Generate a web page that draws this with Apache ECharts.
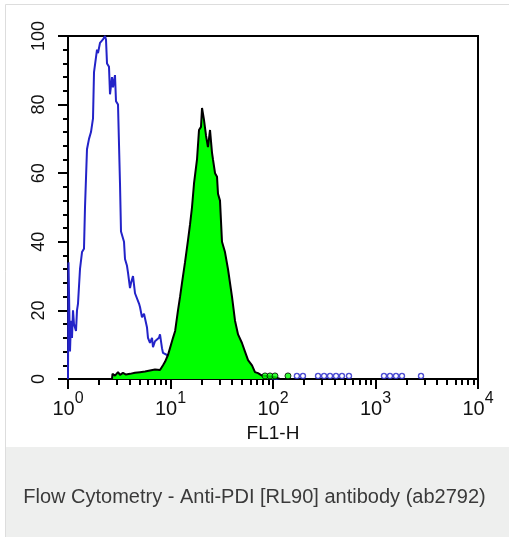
<!DOCTYPE html>
<html>
<head>
<meta charset="utf-8">
<script src="https://cdn.jsdelivr.net/npm/echarts@6/dist/echarts.min.js"></script>
<style>
html,body{margin:0;padding:0;background:#fff;}
#c{width:509px;height:537px;}
</style>
</head>
<body>
<div id="c"></div>
<script>
// Control (blue outline histogram): FL1-H value and % of max
const controlX = [1.00,1.011,1.046,1.070,1.094,1.119,1.144,1.197,1.224,1.252,1.309,1.370,1.432,1.465,1.532,1.603,1.676,1.754,1.794,1.876,1.919,1.962,2.052,2.195,2.296,2.348,2.402,2.512,2.569,2.687,2.748,2.874,2.94,3.075,3.216,3.289,3.519,3.598,3.763,3.849,4.026,4.118,4.307,4.505,4.711,4.93,5.04,5.27,5.513,5.90,6.03,6.31,6.6,6.75,7.06,7.38,7.72,7.9,8.26,8.45,9.25,9.89,11.1,12.4,15.5,19.4,30.4,59.7,117];
const controlY = [0,34,8,17,12,20,16,14,20,22,32,37,38,50,67,70,72,76,89.5,90,96,95,98,99,100,99,92,91,83,88,85,88.6,81,80,57,43,40,35,33,31,26.5,28,30,25,24.5,22,21,18,19,15,12,10.5,12,9.3,11,10.5,12,13,9,7.6,7,6,4,3,2,1.5,1,0.7,0];
// Anti-PDI stained (green filled histogram)
const stainX = [2.687,2.718,2.874,3.075,3.216,3.44,3.68,4.026,4.505,5.04,5.64,6.31,7.06,7.9,8.45,8.84,9.45,9.89,10.58,11.1,11.83,12.4,12.95,13.85,14.82,15.5,16.2,16.96,18.14,18.97,19.84,20.3,21.23,22.2,23.2,24.3,25.4,25.97,27.2,28.43,29.07,30.4,31.8,34.0,36.4,39.8,42.6,45.6,49.8,53.3,57.1,62.4,66.7,71.4,78.1,89.3,104.6,117];
const stainY = [0,1.5,1,2,1.2,1.8,1.3,1.5,1.8,2,2.2,2.5,2.8,2.6,4,5,7,9,12,14,20,24,28,34,40.5,45,50,57,64,72.6,73.5,79,75.5,71,67.6,72.6,66,64,60,59,54,52,40,37,32,24,17,13,10.5,8,5.5,4,2,1.7,1,0.8,0.5,0];
// Rare events near baseline
const controlRareX = [171,196,275,315,360,412,471,551,1210,1385,1585,1813,2780];
const stainRareX = [83.6,93.5,104.6,140];
const rareLevel = 0.9;
// Axis ticks
const yTicks = [0,20,40,60,80,100];
const xDecades = [1,10,100,1000,10000];
const xAxisName = 'FL1-H';
const caption = 'Flow Cytometry - Anti-PDI [RL90] antibody (ab2792)';

const zip = (a, b) => a.map((v, i) => [v, b[i]]);
const chart = echarts.init(document.getElementById('c'), null, {renderer: 'canvas'});
const FONT = '"Liberation Sans", Arial, sans-serif';

chart.setOption({
  animation: false,
  backgroundColor: '#ffffff',
  textStyle: {fontFamily: FONT},
  title: {
    text: caption,
    left: 'center',
    top: 482,
    textStyle: {fontFamily: FONT, fontSize: 20, fontWeight: 'normal', color: '#3a3a3a'}
  },
  graphic: [
    {type: 'rect', z: -10, shape: {x: 5.5, y: 4.5, width: 510, height: 540}, style: {fill: 'none', stroke: '#dddddd', lineWidth: 1}},
    {type: 'rect', z: -9, shape: {x: 6, y: 447, width: 503, height: 90}, style: {fill: '#eeefee'}}
  ],
  grid: {
    left: 68, right: 31, top: 36, bottom: 158,
    show: true, borderColor: '#000', borderWidth: 2, backgroundColor: 'transparent'
  },
  xAxis: {
    type: 'log', logBase: 10, min: xDecades[0], max: xDecades[xDecades.length - 1],
    name: xAxisName, nameLocation: 'middle', nameGap: 45,
    nameTextStyle: {fontFamily: FONT, fontSize: 19, color: '#111'},
    axisLine: {show: true, lineStyle: {color: '#000', width: 2}},
    axisTick: {show: true, inside: false, length: 10, lineStyle: {color: '#000', width: 2}},
    minorTick: {show: true, splitNumber: 9, length: 6, lineStyle: {color: '#000', width: 2}},
    splitLine: {show: false},
    axisLabel: {
      margin: 12, showMinLabel: true, showMaxLabel: true,
      formatter: v => '{b|10}{s|' + Math.round(Math.log10(v)) + '}',
      rich: {
        b: {fontFamily: FONT, fontSize: 20, color: '#111', lineHeight: 28, verticalAlign: 'bottom'},
        s: {fontFamily: FONT, fontSize: 16, color: '#111', verticalAlign: 'top', lineHeight: 18}
      }
    }
  },
  yAxis: {
    type: 'value', min: yTicks[0], max: yTicks[yTicks.length - 1], interval: 20,
    axisLine: {show: true, lineStyle: {color: '#000', width: 2}},
    axisTick: {show: true, inside: false, length: 10, lineStyle: {color: '#000', width: 2}},
    minorTick: {show: true, splitNumber: 5, length: 5, lineStyle: {color: '#000', width: 2}},
    splitLine: {show: false},
    axisLabel: {rotate: 90, margin: 20, fontFamily: FONT, fontSize: 18, color: '#111'}
  },
  series: [
    {
      type: 'line', data: zip(controlX, controlY), showSymbol: false, z: 2,
      lineStyle: {color: '#2323c8', width: 2}
    },
    {
      type: 'line', data: zip(stainX, stainY), showSymbol: false, z: 3,
      lineStyle: {color: '#000', width: 2},
      areaStyle: {color: '#00ff00', opacity: 1}
    },
    {
      type: 'scatter', data: controlRareX.map(x => [x, rareLevel]), z: 4,
      symbol: 'circle', symbolSize: 5,
      itemStyle: {color: '#ffffff', borderColor: '#2323c8', borderWidth: 1.4}
    },
    {
      type: 'scatter', data: stainRareX.map(x => [x, rareLevel]), z: 5,
      symbol: 'circle', symbolSize: 6,
      itemStyle: {color: '#00ff00', borderColor: '#000', borderWidth: 1}
    }
  ]
});
</script>
</body>
</html>
